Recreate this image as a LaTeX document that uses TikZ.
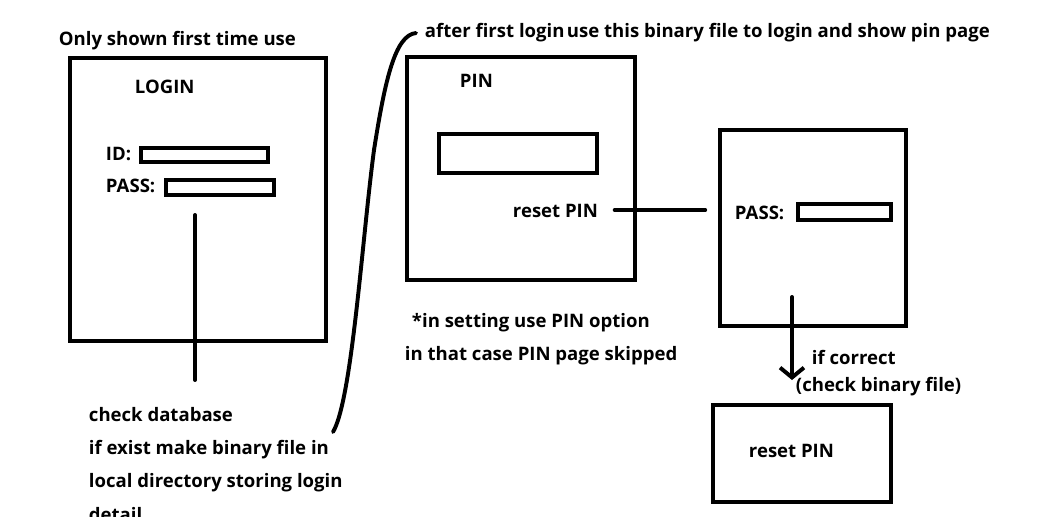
\documentclass[tikz,border=0pt]{standalone}
\usepackage{fontspec}
\setmainfont{Open Sans}
\usetikzlibrary{arrows.meta}

\begin{document}
\begin{tikzpicture}[x=0.025cm,y=-0.025cm,line width=2.8pt,line cap=round,
  frame/.style={draw=black,line width=2.8pt,inner sep=0pt,outer sep=0pt},
  lbl/.style={anchor=base west,inner sep=0pt,font=\bfseries\fontsize{13.2}{23.5}\selectfont}]
\useasboundingbox (0,0) rectangle (1052,516);
% login page
\node[lbl] (first_lbl) at (57,45) {Only shown first time use};
\node[frame,minimum width=6.4cm,minimum height=7.075cm] (login_box) at (198,199.5) {};
\node[lbl] (login_lbl) at (133,93) {LOGIN};
\node[lbl] (id_lbl) at (104,160) {ID:};
\node[frame,minimum width=3.175cm,minimum height=0.35cm] (id_fld) at (204.5,155) {};
\node[lbl] (pass_lbl) at (104,192) {PASS:};
\node[frame,minimum width=2.7cm,minimum height=0.375cm] (pass_fld) at (220,187.5) {};
\node[lbl,align=left] (db_lbl) at (87,521) {check database\\if exist make binary file in\\local directory storing login\\detail};
\coordinate (db_top) at (195,215);
\coordinate (db_bot) at (195,380);
\draw (db_top) -- (db_bot);
% pin page
\node[lbl] (after_lbl) at (423,37) {after first login};
\node[lbl] (use_lbl) at (565,37) {use this binary file to login and show pin page};
\coordinate (cv_bot) at (333,432);
\coordinate (cv_mid) at (374,150);
\coordinate (cv_top) at (416,33);
\draw (cv_bot) .. controls (352,400) and (362,240) .. (cv_mid) .. controls (385,80) and (395,35) .. (cv_top);
\node[frame,minimum width=5.7cm,minimum height=5.575cm] (pin_box) at (521,168.5) {};
\node[lbl] (pin_lbl) at (458,87) {PIN};
\node[frame,minimum width=3.95cm,minimum height=0.975cm] (pin_fld) at (518,153.5) {};
\node[lbl] (rst_lbl) at (511,217) {reset PIN};
\node[lbl] (opt_lbl) at (410,327) {*in setting use PIN option};
\node[lbl] (skip_lbl) at (403,360) {in that case PIN page skipped};
% password check
\node[frame,minimum width=4.65cm,minimum height=4.9cm] (pass_box) at (813,228) {};
\node[lbl] (pass2_lbl) at (733,219) {PASS:};
\node[frame,minimum width=2.325cm,minimum height=0.4cm] (pass2_fld) at (844.5,212) {};
\draw[shorten <=10.5pt,shorten >=10.5pt] (rst_lbl.east |- 0,210) -- (pass_box.west |- 0,210);
\coordinate (arr_top) at (792,297);
\coordinate (arr_tip) at (792,380);
\draw[-{Straight Barb[length=7pt,width=17pt]}] (arr_top) -- (arr_tip);
\node[lbl] (ok_lbl) at (810,364) {if correct};
\node[lbl] (bin_lbl) at (794,391) {(check binary file)};
\node[frame,minimum width=4.45cm,minimum height=2.425cm] (reset_box) at (802,453.5) {};
\node[lbl] (reset_lbl) at (747,457) {reset PIN};
\end{tikzpicture}
\end{document}
